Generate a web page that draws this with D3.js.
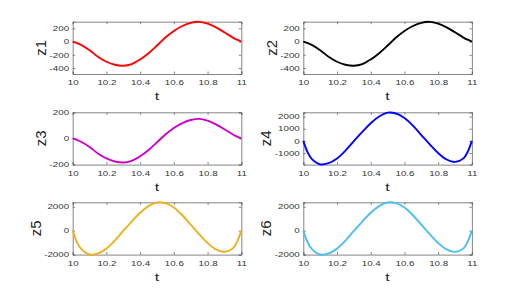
<!DOCTYPE html>
<html>
<head>
<meta charset="utf-8">
<script src="https://cdn.jsdelivr.net/npm/d3@7.9.0/dist/d3.min.js"></script>
<style>
  body { margin: 0; background: #fff; }
  svg { display: block; font-family: "Liberation Sans", Arial, sans-serif; }
  .tick text { fill: #333; font-size: 9.8px; transform-box: fill-box; transform-origin: center; transform: scaleY(0.74); }
  .domain, .tick line { stroke: #666; stroke-width: 0.8; }
</style>
</head>
<body>
<div id="chart"></div>
<script>
// time samples (s)
const t = [10, 10.025, 10.05, 10.1, 10.15, 10.2, 10.25, 10.3, 10.35, 10.4, 10.45, 10.5,
           10.55, 10.6, 10.65, 10.7, 10.75, 10.8, 10.85, 10.9, 10.95, 10.975, 11];

// series values
const z1 = [0, -22, -50, -130, -230, -305, -350, -365, -340, -270, -175, -60,
            60, 160, 235, 282, 298, 270, 215, 140, 60, 28, 0];
const z2 = [0, -22, -50, -130, -230, -305, -350, -365, -340, -270, -175, -60,
            60, 160, 235, 282, 298, 270, 215, 140, 60, 28, 0];
const z3 = [0, -11, -25, -65, -115, -153, -176, -184, -171, -136, -88, -30,
            30, 80, 118, 141, 150, 136, 108, 70, 30, 14, 0];
const z4 = [0, -920, -1480, -1930, -1830, -1450, -800, -20, 740, 1450, 2000, 2320,
            2250, 1880, 1250, 480, -280, -1000, -1530, -1730, -1440, -900, 0];
const z5 = [0, -950, -1520, -1990, -1900, -1500, -830, -20, 760, 1500, 2050, 2360,
            2300, 1930, 1290, 500, -290, -1030, -1570, -1770, -1480, -930, 0];
const z6 = [0, -950, -1520, -1990, -1900, -1500, -830, -20, 760, 1500, 2050, 2360,
            2300, 1930, 1290, 500, -290, -1030, -1570, -1770, -1480, -930, 0];

const xTicks = [10, 10.2, 10.4, 10.6, 10.8, 11];
const xTickLabels = ['10', '10.2', '10.4', '10.6', '10.8', '11'];

const names = ['z1', 'z2', 'z3', 'z4', 'z5', 'z6'];
const series = [z1, z2, z3, z4, z5, z6];
const colors = ['#ff0000', '#000000', '#cc00cc', '#0000ff', '#edb120', '#4dbeee'];
const yDomains = [[-490, 300], [-490, 300], [-200, 200], [-1950, 2350], [-2000, 2370], [-2000, 2370]];
const yTicks = [
  [-400, -200, 0, 200],
  [-400, -200, 0, 200],
  [-200, 0, 200],
  [-1000, 0, 1000, 2000],
  [-2000, 0, 2000],
  [-2000, 0, 2000]
];

const width = 523;
const height = 300;
const colX = [72.7, 303.3];
const rowY = [21.7, 112.3, 202.3];
const plotW = 168.6;
const plotH = 52.3;

const svg = d3.select('#chart')
  .append('svg')
  .attr('width', width)
  .attr('height', height);

series.forEach((vals, i) => {
  const left = colX[i % 2];
  const top = rowY[Math.floor(i / 2)];

  const x = d3.scaleLinear().domain([10, 11]).range([left, left + plotW]);
  const y = d3.scaleLinear().domain(yDomains[i]).range([top + plotH, top]);

  const g = svg.append('g');

  // top and right axes, ticks only
  g.append('g')
    .attr('transform', `translate(0,${top})`)
    .call(d3.axisTop(x).tickValues(xTicks).tickSize(-2.5).tickFormat(''));
  g.append('g')
    .attr('transform', `translate(${left + plotW},0)`)
    .call(d3.axisRight(y).tickValues(yTicks[i]).tickSize(-2.5).tickFormat(''));

  // bottom axis
  g.append('g')
    .attr('transform', `translate(0,${top + plotH})`)
    .call(d3.axisBottom(x).tickValues(xTicks).tickSize(-2.5).tickPadding(5)
      .tickFormat((d, k) => xTickLabels[k]));

  // left axis
  const ya = g.append('g')
    .attr('transform', `translate(${left},0)`)
    .call(d3.axisLeft(y).tickValues(yTicks[i]).tickSize(-2.5).tickPadding(3.5)
      .tickFormat(d => String(d)));

  // curve
  g.append('path')
    .datum(vals.map((v, k) => [t[k], v]))
    .attr('fill', 'none')
    .attr('stroke', colors[i])
    .attr('stroke-width', 1.9)
    .attr('d', d3.line()
      .x(d => x(d[0]))
      .y(d => y(d[1]))
      .curve(d3.curveCatmullRom.alpha(0.5)));

  // x label
  g.append('text')
    .attr('x', left + plotW / 2)
    .attr('y', top + plotH + 22)
    .attr('text-anchor', 'middle')
    .attr('dominant-baseline', 'central')
    .attr('font-size', 16)
    .attr('fill', '#262626')
    .style('transform-box', 'fill-box')
    .style('transform-origin', 'center')
    .style('transform', 'scaleY(0.74)')
    .text('t');

  // y label, placed left of the tick labels
  const bb = ya.node().getBBox();
  const lx = left + bb.x - 9;
  const ly = top + plotH / 2;
  g.append('text')
    .attr('transform', `translate(${lx},${ly}) rotate(-90)`)
    .attr('text-anchor', 'middle')
    .attr('dominant-baseline', 'central')
    .attr('font-size', 15)
    .attr('fill', '#262626')
    .text(names[i]);
});
</script>
</body>
</html>
